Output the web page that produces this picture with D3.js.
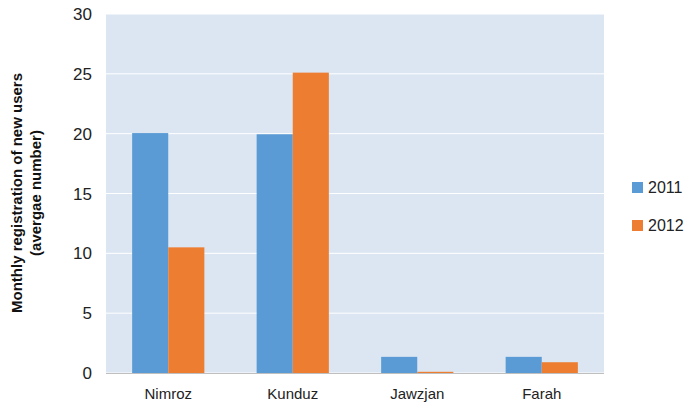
<!DOCTYPE html>
<html><head><meta charset="utf-8">
<script src="https://cdn.jsdelivr.net/npm/d3@7"></script>
<style>body{margin:0;background:#fff}text{font-family:"Liberation Sans",Arial,sans-serif}</style>
</head><body><svg id="c" width="690" height="410"></svg>
<script>
const categories=["Nimroz","Kunduz","Jawzjan","Farah"];
const seriesNames=["2011","2012"];
const values2011=[20.05,19.95,1.35,1.35];
const values2012=[10.5,25.1,0.1,0.9];
const yTicks=[0,5,10,15,20,25,30];
const colors=["#5b9bd5","#ed7d31"];
const svg=d3.select("#c");
const m={l:106,r:604,t:14,b:373};
const x=d3.scaleBand().domain(categories).range([m.l,m.r]).paddingInner(0.42).paddingOuter(0.21);
const xs=d3.scaleBand().domain(seriesNames).range([0,x.bandwidth()]);
const y=d3.scaleLinear().domain([0,30]).range([m.b,m.t]);
svg.append("rect").attr("x",m.l).attr("y",m.t).attr("width",m.r-m.l).attr("height",m.b-m.t).attr("fill","#dce6f2");
svg.selectAll("line.g").data(yTicks).join("line").attr("x1",m.l).attr("x2",m.r).attr("y1",d=>y(d)).attr("y2",d=>y(d)).attr("stroke","#fff").attr("stroke-width",1);
const series=[values2011,values2012];
series.forEach((vals,i)=>{
 svg.selectAll("rect.s"+i).data(vals).join("rect").attr("x",(d,j)=>x(categories[j])+xs(seriesNames[i])).attr("width",xs.bandwidth())
 .attr("y",d=>y(d)).attr("height",d=>y(0)-y(d)).attr("fill",colors[i]);
});
svg.append("line").attr("x1",m.l).attr("x2",m.r).attr("y1",m.b+0.5).attr("y2",m.b+0.5).attr("stroke","#bfbfbf");
svg.selectAll("text.y").data(yTicks).join("text").attr("x",92).attr("y",d=>y(d)+6).attr("text-anchor","end").attr("font-size",17).attr("fill","#222").text(d=>d);
svg.selectAll("text.x").data(categories).join("text").attr("x",d=>x(d)+x.bandwidth()/2).attr("y",399).attr("text-anchor","middle").attr("font-size",15).attr("fill","#222").text(d=>d);
const yl=svg.append("text").attr("transform","translate(22,193) rotate(-90)").attr("text-anchor","middle").attr("font-size",15).attr("font-weight","bold").attr("fill","#111");
yl.append("tspan").attr("x",0).attr("dy",0).text("Monthly registration of new users");
yl.append("tspan").attr("x",0).attr("dy",19).text("(avergae number)");
seriesNames.forEach((s,i)=>{
 svg.append("rect").attr("x",632).attr("y",182+i*38).attr("width",11).attr("height",11).attr("fill",colors[i]);
 svg.append("text").attr("x",648).attr("y",193+i*38).attr("font-size",16).attr("fill","#222").text(s);
});
</script></body></html>
